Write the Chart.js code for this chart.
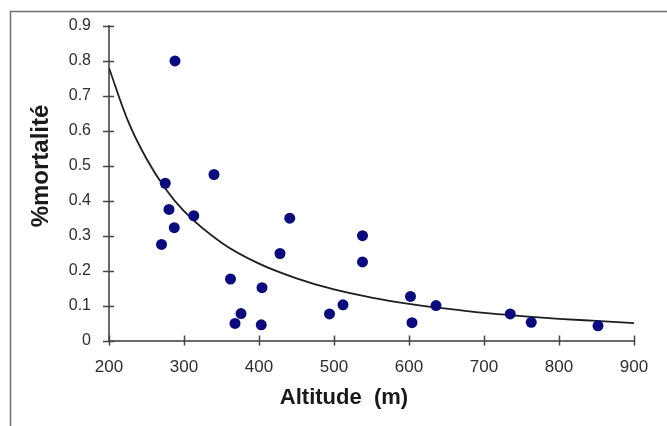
<!DOCTYPE html>
<html>
<head>
<meta charset="utf-8">
<script src="https://cdn.jsdelivr.net/npm/chart.js@4/dist/chart.umd.min.js"></script>
<style>
  body { margin: 0; background: #fff; }
  #wrap { width: 667px; height: 426px; }
</style>
</head>
<body>
<div id="wrap"><canvas id="chart"></canvas></div>
<script>
// points
const altitude = [288, 275, 280, 287, 270, 313, 340, 362, 368, 376, 403, 404, 428, 441, 494, 512, 538, 538, 602, 604, 636, 735, 763, 852];
const mortality = [0.80, 0.45, 0.375, 0.323, 0.275, 0.357, 0.475, 0.176, 0.049, 0.077, 0.045, 0.151, 0.249, 0.35, 0.076, 0.102, 0.30, 0.225, 0.126, 0.051, 0.10, 0.076, 0.052, 0.042];

// trend curve
const curveAltitude = [200, 225, 250, 275, 300, 350, 400, 450, 500, 550, 600, 650, 700, 750, 800, 850, 900];
const curveMortality = [0.78, 0.63, 0.52, 0.435, 0.37, 0.28, 0.22, 0.178, 0.146, 0.123, 0.105, 0.091, 0.079, 0.07, 0.062, 0.056, 0.05];

const xTicks = [200, 300, 400, 500, 600, 700, 800, 900];
const yTicks = [0, 0.1, 0.2, 0.3, 0.4, 0.5, 0.6, 0.7, 0.8, 0.9];

const xTitle = "Altitude  (m)";
const yTitle = "%mortalité";

const FONT = "'Liberation Sans', Arial, sans-serif";

const decorPlugin = {
    id: 'decor',
    afterDraw: (chart) => {
        const ctx = chart.ctx;
        const xs = chart.scales.x;
        const ys = chart.scales.y;
        const area = chart.chartArea;
        ctx.save();

        // outer frame, left and top only
        ctx.strokeStyle = '#6e6e6e';
        ctx.lineWidth = 1.5;
        ctx.beginPath();
        ctx.moveTo(10.5, 426);
        ctx.lineTo(10.5, 11.5);
        ctx.lineTo(667, 11.5);
        ctx.stroke();

        // tick marks crossing the axes
        ctx.strokeStyle = '#444';
        ctx.lineWidth = 1.5;
        ctx.beginPath();
        xTicks.forEach(v => {
            const px = Math.round(xs.getPixelForValue(v)) + 0.5;
            ctx.moveTo(px, area.bottom - 5);
            ctx.lineTo(px, area.bottom + 5);
        });
        yTicks.forEach(v => {
            const py = Math.round(ys.getPixelForValue(v)) + 0.5;
            ctx.moveTo(area.left - 6, py);
            ctx.lineTo(area.left + 5, py);
        });
        ctx.stroke();

        // axis titles
        ctx.fillStyle = '#1a1a1a';
        ctx.textAlign = 'center';
        ctx.textBaseline = 'middle';
        ctx.font = "bold 22px " + FONT;
        ctx.fillText(xTitle, 344, 398);

        ctx.translate(41, 166);
        ctx.rotate(-Math.PI / 2);
        ctx.font = "bold 24px " + FONT;
        ctx.fillText(yTitle, 0, 0);
        ctx.restore();
    }
};

new Chart(document.getElementById('chart'), {
    type: 'scatter',
    plugins: [decorPlugin],
    data: {
        datasets: [
            {
                label: 'mortalité',
                data: altitude.map((a, i) => ({x: a, y: mortality[i]})),
                backgroundColor: '#0a0a7e',
                borderWidth: 0,
                pointRadius: 5.5,
                pointHoverRadius: 5.5
            },
            {
                label: 'tendance',
                type: 'line',
                data: curveAltitude.map((a, i) => ({x: a, y: curveMortality[i]})),
                borderColor: '#1e1e1e',
                borderWidth: 1.8,
                pointRadius: 0,
                fill: false,
                cubicInterpolationMode: 'monotone'
            }
        ]
    },
    options: {
        responsive: true,
        maintainAspectRatio: false,
        animation: false,
        layout: {
            padding: {left: 0, top: 26, right: 33, bottom: 0}
        },
        plugins: {
            legend: {display: false},
            tooltip: {enabled: false}
        },
        scales: {
            x: {
                type: 'linear',
                min: 200,
                max: 900,
                afterFit: (scale) => { scale.height = 85.5; },
                afterBuildTicks: (scale) => { scale.ticks = xTicks.map(v => ({value: v})); },
                grid: {display: false},
                border: {display: true, color: '#6a6a6a', width: 2},
                ticks: {
                    color: '#2e2e2e',
                    font: {family: FONT, size: 17},
                    padding: 9
                }
            },
            y: {
                type: 'linear',
                min: 0,
                max: 0.9,
                afterFit: (scale) => { scale.width = 109; },
                afterBuildTicks: (scale) => { scale.ticks = yTicks.map(v => ({value: v})); },
                grid: {display: false},
                border: {display: true, color: '#6a6a6a', width: 2},
                ticks: {
                    color: '#2e2e2e',
                    font: {family: FONT, size: 16},
                    padding: 10,
                    callback: (v) => String(Math.round(v * 10) / 10)
                }
            }
        }
    }
});
</script>
</body>
</html>
